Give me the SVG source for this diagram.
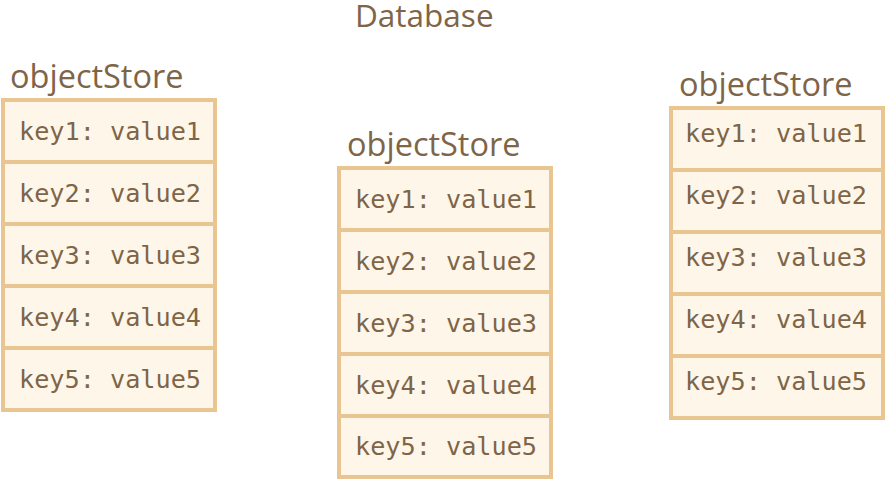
<svg xmlns="http://www.w3.org/2000/svg" width="886" height="480" viewBox="0 0 886 480">
  <style>
    .cell { fill: #fef6e8; stroke: #e8c591; stroke-width: 4; }
    .title { font-family: "Open Sans", "Noto Sans", sans-serif; font-size: 32.5px; fill: #7f6548; }
    .kv { font-family: "DejaVu Sans Mono", "Liberation Mono", monospace; font-size: 25.2px; fill: #7f6548; }
  </style>
  <rect width="886" height="480" fill="#ffffff"/>

  <text class="title" x="355" y="27" style="font-size:31.5px">Database</text>

  <!-- store on the left -->
  <g id="store-left">
    <text class="title" x="10" y="88">objectStore</text>
    <rect class="cell" x="3" y="100" width="212" height="62"/>
    <rect class="cell" x="3" y="162" width="212" height="62"/>
    <rect class="cell" x="3" y="224" width="212" height="62"/>
    <rect class="cell" x="3" y="286" width="212" height="62"/>
    <rect class="cell" x="3" y="348" width="212" height="62"/>
    <text class="kv" x="19" y="140">key1: value1</text>
    <text class="kv" x="19" y="202">key2: value2</text>
    <text class="kv" x="19" y="264">key3: value3</text>
    <text class="kv" x="19" y="326">key4: value4</text>
    <text class="kv" x="19" y="388">key5: value5</text>
  </g>

  <!-- store in the middle -->
  <g id="store-middle">
    <text class="title" x="347" y="156">objectStore</text>
    <rect class="cell" x="339" y="168" width="212" height="62"/>
    <rect class="cell" x="339" y="230" width="212" height="62"/>
    <rect class="cell" x="339" y="292" width="212" height="62"/>
    <rect class="cell" x="339" y="354" width="212" height="62"/>
    <rect class="cell" x="339" y="416" width="212" height="61"/>
    <text class="kv" x="355" y="208">key1: value1</text>
    <text class="kv" x="355" y="270">key2: value2</text>
    <text class="kv" x="355" y="332">key3: value3</text>
    <text class="kv" x="355" y="394">key4: value4</text>
    <text class="kv" x="355" y="455">key5: value5</text>
  </g>

  <!-- store on the right -->
  <g id="store-right">
    <text class="title" x="679" y="96">objectStore</text>
    <rect class="cell" x="671" y="108" width="212" height="62"/>
    <rect class="cell" x="671" y="170" width="212" height="62"/>
    <rect class="cell" x="671" y="232" width="212" height="62"/>
    <rect class="cell" x="671" y="294" width="212" height="62"/>
    <rect class="cell" x="671" y="356" width="212" height="62"/>
    <text class="kv" x="685" y="142">key1: value1</text>
    <text class="kv" x="685" y="204">key2: value2</text>
    <text class="kv" x="685" y="266">key3: value3</text>
    <text class="kv" x="685" y="328">key4: value4</text>
    <text class="kv" x="685" y="390">key5: value5</text>
  </g>
</svg>
